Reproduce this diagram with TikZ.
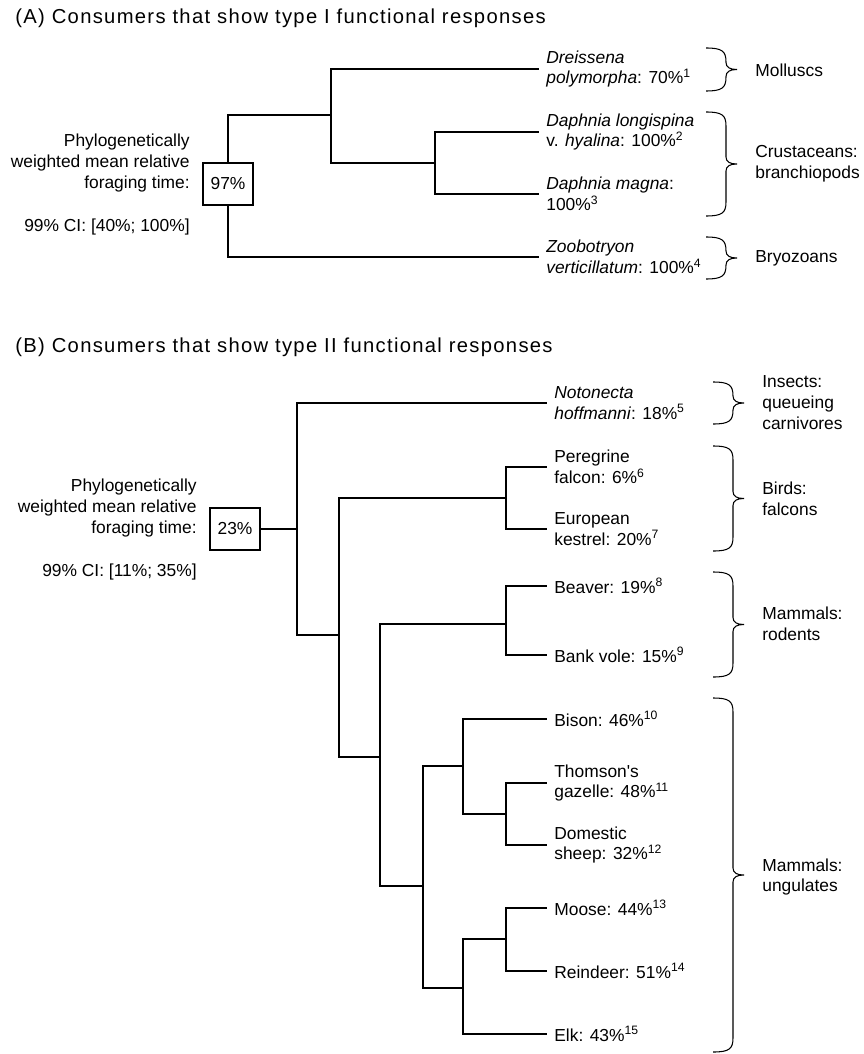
\documentclass[tikz,border=0pt]{standalone}
\usepackage{fontspec}
\setmainfont{Liberation Sans}
\newfontfamily\titlefont[LetterSpace=6.5]{Liberation Sans}
% curly bracket: x, top, bottom
\newcommand{\grpbrace}[3]{%
  \pgfmathsetmacro{\bmid}{(#2+#3)/2}
  \draw[branch] (#1,#2) .. controls ({#1+16},#2) and ({#1+20},{#2+3}) .. ({#1+20},{#2+14})
    -- ({#1+20},{\bmid-7}) .. controls ({#1+20},{\bmid-2}) and ({#1+24},\bmid) .. ({#1+31},\bmid)
    .. controls ({#1+24},\bmid) and ({#1+20},{\bmid+2}) .. ({#1+20},{\bmid+7})
    -- ({#1+20},{#3-14}) .. controls ({#1+20},{#3-3}) and ({#1+16},#3) .. (#1,#3);}

\begin{document}
\begin{tikzpicture}[x=0.02cm, y=-0.02cm,
	every node/.style={font=\fontsize{9.9}{11.9}\selectfont},
	branch/.style={line width=0.6pt, black},
	meanbox/.style={draw, line width=0.6pt, fill=white, minimum width=1cm, minimum height=0.84cm, inner sep=0pt},
	leaf/.style={anchor=west, align=left, inner xsep=0.14cm, inner ysep=0pt},
	grp/.style={anchor=west, align=left, inner sep=0pt},
	note/.style={anchor=east, align=right, inner sep=0pt},
	paneltitle/.style={anchor=west, inner sep=0pt, font=\titlefont\fontsize{11.5}{13.5}\selectfont}]
		
		\useasboundingbox (0,0) rectangle (863,1054);
		
		%titles
		\node[paneltitle] (ta) at (15,18) {(A) Consumers that show type I functional responses};
		\node[paneltitle] (tb) at (15,347) {(B) Consumers that show type II functional responses};
		
		%tree A
		\node[meanbox] (ra) at (228,184) {97\%};
		\coordinate (a1) at (331,115);
		\coordinate (a2) at (435,163);
		\node[leaf] (dre) at (539,69) {\textit{Dreissena}\\\textit{polymorpha}: 70\%\textsuperscript{1}};
		\node[leaf] (dlo) at (539,132) {\textit{Daphnia longispina}\\v. \textit{hyalina}: 100\%\textsuperscript{2}};
		\node[leaf] (dma) at (539,194) {\textit{Daphnia magna}:\\100\%\textsuperscript{3}};
		\node[leaf] (zoo) at (539,257) {\textit{Zoobotryon}\\\textit{verticillatum}: 100\%\textsuperscript{4}};
		\draw[branch] (ra.north) |- (a1);
		\draw[branch] (ra.south) |- (zoo.west);
		\draw[branch] (a1) |- (dre.west);
		\draw[branch] (a1) |- (a2);
		\draw[branch] (a2) |- (dlo.west);
		\draw[branch] (a2) |- (dma.west);
		\node[note] (pa) at (190,163) {Phylogenetically\\weighted mean relative\\foraging time:};
		\node[note] (ca) at (190,227) {99\% CI: [40\%; 100\%]};
		\grpbrace{706}{48}{91}
		\grpbrace{706}{112}{216}
		\grpbrace{706}{237}{279}
		\node[grp] (mol) at (755,70) {Molluscs};
		\node[grp] (cru) at (755,164) {Crustaceans:\\branchiopods};
		\node[grp] (bry) at (755,258) {Bryozoans};
		
		%tree B
		\node[meanbox] (rb) at (235,529) {23\%};
		\coordinate (b0) at (297,529);
		\coordinate (b1) at (339,635);
		\coordinate (b2) at (506,498);
		\coordinate (b3) at (380,757);
		\coordinate (b4) at (506,624);
		\coordinate (b5) at (423,886);
		\coordinate (b6) at (463,766);
		\coordinate (b7) at (463,988);
		\coordinate (b8) at (506,814);
		\coordinate (b9) at (506,939);
		\node[leaf] (not) at (547,403) {\textit{Notonecta}\\\textit{hoffmanni}: 18\%\textsuperscript{5}};
		\node[leaf] (per) at (547,467) {Peregrine\\falcon: 6\%\textsuperscript{6}};
		\node[leaf] (eur) at (547,529) {European\\kestrel: 20\%\textsuperscript{7}};
		\node[leaf] (bea) at (547,586) {Beaver: 19\%\textsuperscript{8}};
		\node[leaf] (ban) at (547,655) {Bank vole: 15\%\textsuperscript{9}};
		\node[leaf] (bis) at (547,719) {Bison: 46\%\textsuperscript{10}};
		\node[leaf] (tho) at (547,783) {Thomson\textquotesingle s\\gazelle: 48\%\textsuperscript{11}};
		\node[leaf] (dom) at (547,845) {Domestic\\sheep: 32\%\textsuperscript{12}};
		\node[leaf] (moo) at (547,908) {Moose: 44\%\textsuperscript{13}};
		\node[leaf] (rei) at (547,971) {Reindeer: 51\%\textsuperscript{14}};
		\node[leaf] (elk) at (547,1034) {Elk: 43\%\textsuperscript{15}};
		\draw[branch] (rb.east) -- (b0);
		\draw[branch] (b0) |- (not.west);
		\draw[branch] (b0) |- (b1);
		\draw[branch] (b1) |- (b2);
		\draw[branch] (b1) |- (b3);
		\draw[branch] (b2) |- (per.west);
		\draw[branch] (b2) |- (eur.west);
		\draw[branch] (b3) |- (b4);
		\draw[branch] (b3) |- (b5);
		\draw[branch] (b4) |- (bea.west);
		\draw[branch] (b4) |- (ban.west);
		\draw[branch] (b5) |- (b6);
		\draw[branch] (b5) |- (b7);
		\draw[branch] (b6) |- (bis.west);
		\draw[branch] (b6) |- (b8);
		\draw[branch] (b7) |- (b9);
		\draw[branch] (b7) |- (elk.west);
		\draw[branch] (b8) |- (tho.west);
		\draw[branch] (b8) |- (dom.west);
		\draw[branch] (b9) |- (moo.west);
		\draw[branch] (b9) |- (rei.west);
		\node[note] (pb) at (197,508) {Phylogenetically\\weighted mean relative\\foraging time:};
		\node[note] (cb) at (197,572) {99\% CI: [11\%; 35\%]};
		\grpbrace{713}{382}{424}
		\grpbrace{713}{446}{551}
		\grpbrace{713}{572}{677}
		\grpbrace{713}{698}{1052}
		\node[grp] (ins) at (762,403) {Insects:\\queueing\\carnivores};
		\node[grp] (bir) at (762,499) {Birds:\\falcons};
		\node[grp] (rod) at (762,624) {Mammals:\\rodents};
		\node[grp] (ung) at (762,877) {Mammals:\\ungulates};
		
	\end{tikzpicture}
\end{document}
